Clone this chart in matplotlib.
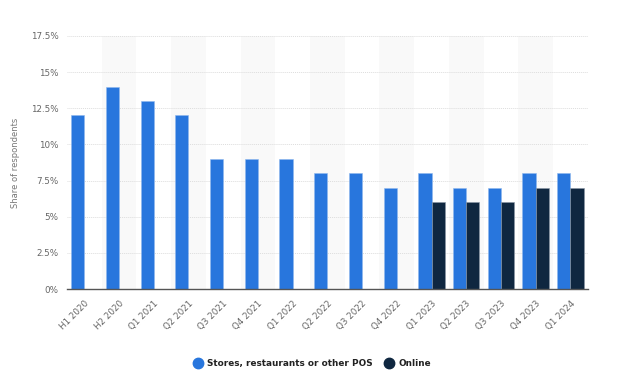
import numpy as np
import matplotlib.pyplot as plt
from matplotlib.lines import Line2D
from matplotlib.ticker import FuncFormatter

periods = ["H1 2020", "H2 2020", "Q1 2021", "Q2 2021", "Q3 2021", "Q4 2021", "Q1 2022", "Q2 2022",
           "Q3 2022", "Q4 2022", "Q1 2023", "Q2 2023", "Q3 2023", "Q4 2023", "Q1 2024"]
stores = [12, 14, 13, 12, 9, 9, 9, 8, 8, 7, 8, 7, 7, 8, 8]
online = [np.nan] * 10 + [6, 6, 6, 7, 7]

BLUE = "#2876dd"
NAVY = "#0f2740"

fig = plt.figure(figsize=(6.2, 3.74), dpi=100)
ax = fig.add_axes([0.108, 0.227, 0.84, 0.677])

x = np.arange(len(periods))
w = 0.38
for i in x:
    if i % 2 == 1:
        ax.axvspan(i - 0.5, i + 0.5, color="#f9f9f9", zorder=0, lw=0)

ax.bar(x - w / 2, stores, w, color=BLUE, edgecolor="#8fb8ee", linewidth=0.4, zorder=3)
ax.bar(x + w / 2, online, w, color=NAVY, edgecolor="#8a97a6", linewidth=0.4, zorder=3)

ax.set_xlim(-0.5, len(periods) - 0.5)
ax.set_ylim(0, 17.5)
ax.set_yticks(np.arange(0, 17.6, 2.5))
ax.yaxis.set_major_formatter(FuncFormatter(lambda v, p: f"{v:g}%"))
ax.grid(axis="y", color="#dddddd", linestyle=(0, (1, 1)), linewidth=0.7, zorder=1)
ax.set_axisbelow(True)

ax.set_xticks(x)
ax.set_xticklabels(periods, rotation=45, ha="right", rotation_mode="anchor")
ax.tick_params(axis="both", length=0, labelsize=6.3, colors="#666666", pad=6)
ax.tick_params(axis="x", pad=7)
for s in ["top", "right", "left"]:
    ax.spines[s].set_visible(False)
ax.spines["bottom"].set_color("#555555")
ax.spines["bottom"].set_linewidth(1.0)
ax.spines["bottom"].set_zorder(4)

ax.set_ylabel("Share of respondents", fontsize=6, color="#777777", labelpad=8)

handles = [Line2D([], [], marker="o", ls="", color=BLUE, markersize=7.5),
           Line2D([], [], marker="o", ls="", color=NAVY, markersize=7.5)]
fig.legend(handles, ["Stores, restaurants or other POS", "Online"], loc="center",
           bbox_to_anchor=(0.5, 0.027), ncol=2, frameon=False, handletextpad=0.1,
           columnspacing=0.8, prop={"size": 6.4, "weight": "semibold"}, labelcolor="#222222")

fig.savefig("out.png", dpi=100)
